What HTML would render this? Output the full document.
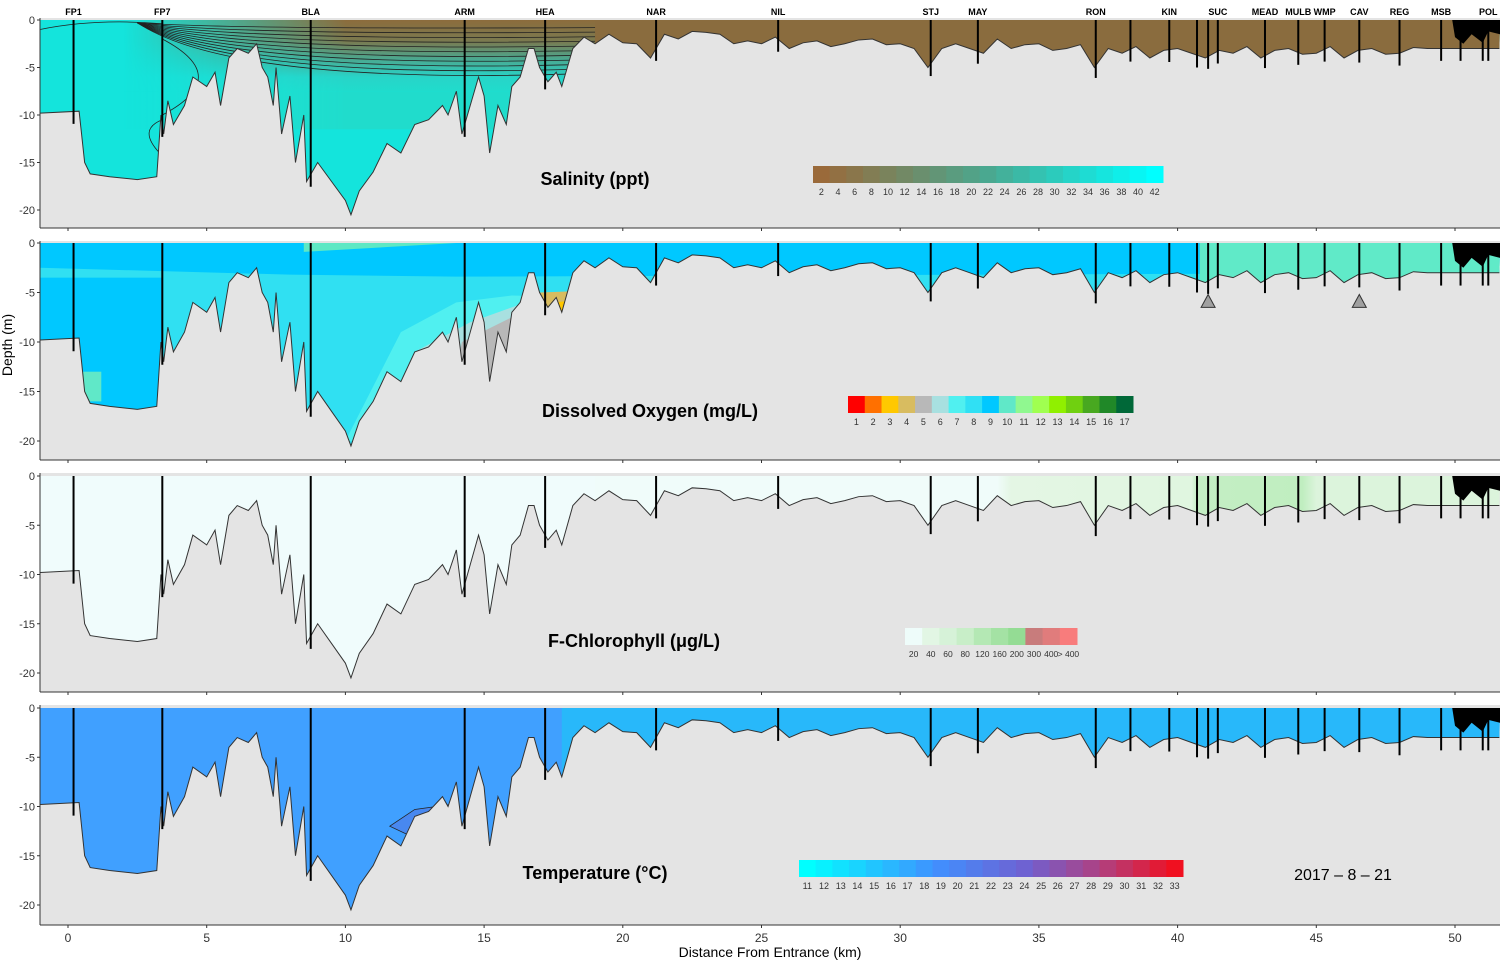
<!DOCTYPE html>
<html><head><meta charset="utf-8">
<style>
html,body{margin:0;padding:0;background:#fff;}
svg{display:block;font-family:"Liberation Sans",sans-serif;}
</style></head>
<body>
<svg id="c" width="1500" height="960" xmlns="http://www.w3.org/2000/svg"></svg>
<script>
// ---- data ----
const bathyKm = [-1,0.4,0.6,0.8,1.5,2.5,3.2,3.35,3.45,3.6,
 3.8,4.2,4.5,5.0,5.3,5.5,5.8,6.1,6.5,6.8,
 7.0,7.2,7.4,7.5,7.7,8.0,8.2,8.5,8.6,9.0,
 9.5,10.0,10.2,10.5,11,11.5,12,12.5,13,13.5,
 13.7,14,14.2,14.5,14.8,15,15.2,15.5,15.8,16,
 16.3,16.6,16.8,17,17.3,17.6,17.8,18,
 18.2,18.6,
 19,19.5,20,20.5,21,21.5,22,22.5,23,23.5,
 24,24.5,25,25.5,26,26.5,27,27.5,28,28.5,
 29,29.5,30,30.5,31,31.5,32,32.5,33,33.5,
 34,34.5,35,35.5,36,36.5,37,37.5,38,38.5,
 39,39.5,40,40.5,41,41.5,42,42.5,43,43.5,
 44,44.5,45,45.5,46,46.5,47,47.5,48,48.5,
 49,49.5,50,
 50.5,51.6];
const bathyDepth = [-9.8,-9.6,-15,-16.2,-16.5,-16.8,-16.5,-10,-12,-8.5,
 -11,-9,-6,-7,-5.5,-9,-4,-3,-3.5,-2.5,
 -5,-6,-9,-5,-12,-8,-15,-10,-17,-15,
 -17,-19,-20.5,-18,-16,-13,-14,-11,-10.5,-9,
 -10,-7.5,-12,-9,-6,-8,-14,-9,-11,-7,
 -6,-3,-3,-5,-6.5,-5.5,-7,-5,
 -3,-1.8,
 -2.5,-1.5,-2.4,-2.5,-4,-1.5,-2,-1.2,-1.3,-1.5,
 -2.5,-2.2,-2.5,-1.8,-3,-2.4,-2.2,-2.8,-2.5,-2.1,
 -2.0,-2.6,-2.5,-3,-5,-3,-2.5,-3,-3.5,-2,
 -3,-2.6,-2.5,-3.2,-3,-2.6,-5,-3,-3.5,-2.8,
 -4,-3.2,-3,-3.5,-4,-3.2,-3.5,-2.8,-4,-3.2,
 -3,-3.6,-3.5,-2.8,-4,-3.2,-3,-3.6,-3.5,-2.9,
 -3,-3,-3,
 -3,-3];
const stationNames = ["FP1","FP7","BLA","ARM","HEA","NAR","NIL","STJ","MAY","RON","KIN","SUC","MEAD","MULB","WMP","CAV","REG","MSB","POL"];
const stationKm = [0.2,3.4,8.75,14.3,17.2,21.2,25.6,31.1,32.8,37.05,39.7,41.45,43.15,44.35,45.3,46.55,48.0,49.5,51.2];
const extraKm = [38.3,40.7,41.1,50.2,51.0];
const xTicks = [0,5,10,15,20,25,30,35,40,45,50];
const yTicks = [0,-5,-10,-15,-20];
const salLabels = [2,4,6,8,10,12,14,16,18,20,22,24,26,28,30,32,34,36,38,40,42];
const doLabels = [1,2,3,4,5,6,7,8,9,10,11,12,13,14,15,16,17];
const doColors = ["#ff0000","#ff7000","#ffc800","#d8bc60","#b8b8b8","#a8e0e0","#50f0f0","#30e0f4","#00c8ff","#60e8c8","#90f890","#a0ff50","#90f000","#70d010","#48a820","#208828","#006838"];
const chlLabels = ["20","40","60","80","120","160","200","300","400","> 400"];
const chlColors = ["#eefcfa","#e2f6e4","#d6f2d8","#c8eec8","#b4e8b4","#a4e2a4","#94dc94","#c87c7c","#e07c7c","#f87c7c"];
const tempLabels = [11,12,13,14,15,16,17,18,19,20,21,22,23,24,25,26,27,28,29,30,31,32,33];

// ---- geometry ----
const NS="http://www.w3.org/2000/svg";
const svg=document.getElementById('c');
const X0=40,X1=1500;
const xs=km=>68+km*27.74;
const panels=[
 {top:18,bottom:228,y0:20,ppm:9.5,name:'salinity'},
 {top:241,bottom:460,y0:243,ppm:9.9,name:'oxygen'},
 {top:473,bottom:692,y0:476,ppm:9.85,name:'chlorophyll'},
 {top:705,bottom:925,y0:708,ppm:9.85,name:'temperature'}];
function el(tag,attrs,parent){const e=document.createElementNS(NS,tag);for(const k in attrs)e.setAttribute(k,attrs[k]);(parent||svg).appendChild(e);return e;}
function depthAt(km){for(let i=0;i<bathyKm.length-1;i++){if(km>=bathyKm[i]&&km<=bathyKm[i+1]){const t=(km-bathyKm[i])/(bathyKm[i+1]-bathyKm[i]);return bathyDepth[i]+t*(bathyDepth[i+1]-bathyDepth[i]);}}return -3;}
function lerpC(a,b,t){const pa=[1,3,5].map(i=>parseInt(a.substr(i,2),16)),pb=[1,3,5].map(i=>parseInt(b.substr(i,2),16));return '#'+pa.map((v,i)=>Math.round(v+(pb[i]-v)*t).toString(16).padStart(2,'0')).join('');}
function ramp(stops,t){for(let i=0;i<stops.length-1;i++){if(t<=stops[i+1][0]){return lerpC(stops[i][1],stops[i+1][1],(t-stops[i][0])/(stops[i+1][0]-stops[i][0]));}}return stops[stops.length-1][1];}

const defs=el('defs',{});
panels.forEach((p,pi)=>{
  const ys=d=>p.y0-d*p.ppm;
  const g=el('g',{});
  
  
  el('rect',{x:X0,y:p.top,width:X1-X0,height:p.bottom-p.top,fill:'#e4e4e4'},g);
  let pts=`${X0},${ys(0)} `;
  bathyKm.forEach((k,i)=>{pts+=`${Math.max(X0,xs(k))},${ys(bathyDepth[i])} `;});
  pts+=`${X1},${ys(0)}`;
  const cp=el('clipPath',{id:'w'+pi},defs);
  el('polygon',{points:pts},cp);
  const wg=el('g',{'clip-path':`url(#w${pi})`},g);
  
  
  const W=X1-X0, H=p.bottom-p.y0;
  if(pi===0){
    el('rect',{x:X0,y:p.y0,width:W,height:H,fill:'#14e4dc'},wg);
    const lg=el('linearGradient',{id:'salv',x1:0,y1:0,x2:0,y2:1},defs);
    [[0,'#8c6c3c'],[0.3,'#7a7a50'],[0.55,'#4aa890'],[0.8,'#28d4c8'],[1,'#20dccc']].forEach(s=>el('stop',{offset:s[0],'stop-color':s[1]},lg));
    const mk=el('linearGradient',{id:'salm',gradientUnits:'userSpaceOnUse',x1:xs(2),x2:xs(10),y1:0,y2:0},defs);
    el('stop',{offset:0,'stop-color':'#fff','stop-opacity':0},mk);el('stop',{offset:1,'stop-color':'#fff','stop-opacity':1},mk);
    const mask=el('mask',{id:'salmask'},defs);el('rect',{x:X0,y:p.top,width:W,height:H,fill:'url(#salm)'},mask);
    el('rect',{x:X0,y:p.y0,width:W,height:7.5*p.ppm,fill:'url(#salv)',mask:'url(#salmask)'},wg);
    el('rect',{x:X0,y:p.y0+7.5*p.ppm,width:W,height:4*p.ppm,fill:'#20dccc',mask:'url(#salmask)'},wg);
    el('rect',{x:xs(19),y:p.y0,width:X1-xs(19),height:H,fill:'#8a6c3e'},wg);
    for(let d=1;d<=7;d+=0.6){el('path',{d:`M${xs(2.5)},${ys(-0.3)} Q${xs(6)},${ys(-d)} ${xs(19)},${ys(-d*0.8)}`,fill:'none',stroke:'#222','stroke-width':0.8},wg);}
    el('path',{d:`M${X0},${ys(-1)} Q${xs(1)},${ys(0.2)} ${xs(3.4)},${ys(-0.4)}`,fill:'none',stroke:'#222','stroke-width':0.8},wg);
    el('path',{d:`M${xs(3.4)},${ys(-2)} Q${xs(6)},${ys(-6)} ${xs(3.4)},${ys(-10)} M${xs(3.4)},${ys(-10.5)} Q${xs(2.5)},${ys(-11.5)} ${xs(3.3)},${ys(-14)}`,fill:'none',stroke:'#222','stroke-width':0.8},wg);
  } else if(pi===1){
    el('rect',{x:X0,y:p.y0,width:W,height:H,fill:'#30e0f2'},wg);
    el('rect',{x:X0,y:p.y0+3.5*p.ppm,width:xs(3.4)-X0,height:H,fill:'#00c8ff'},wg);
    el('polygon',{points:`${X0},${ys(0)} ${X1},${ys(0)} ${X1},${ys(-3)} ${xs(14)},${ys(-3.4)} ${xs(8)},${ys(-3.2)} ${X0},${ys(-2.5)}`,fill:'#00c8ff'},wg);
    el('polygon',{points:`${xs(8.5)},${ys(0)} ${xs(14)},${ys(0)} ${xs(8.5)},${ys(-0.9)}`,fill:'#5ee8c4'},wg);
    el('polygon',{points:`${xs(10)},${ys(-20)} ${xs(12)},${ys(-9)} ${xs(14)},${ys(-6)} ${xs(16)},${ys(-5.3)} ${xs(19)},${ys(-5.5)} ${xs(19)},${ys(-20)}`,fill:'#50f0f0'},wg);
    el('polygon',{points:`${xs(11.8)},${ys(-20)} ${xs(12.5)},${ys(-11)} ${xs(14.5)},${ys(-8)} ${xs(16.5)},${ys(-6)} ${xs(19)},${ys(-6)} ${xs(19)},${ys(-20)}`,fill:'#a8e0e0'},wg);
    el('polygon',{points:`${xs(13.5)},${ys(-20)} ${xs(14.2)},${ys(-10)} ${xs(16)},${ys(-7.5)} ${xs(17.5)},${ys(-5.5)} ${xs(19)},${ys(-6)} ${xs(19)},${ys(-20)}`,fill:'#b8b8b8'},wg);
    el('polygon',{points:`${xs(16.3)},${ys(-20)} ${xs(17)},${ys(-5)} ${xs(19)},${ys(-4.8)} ${xs(19)},${ys(-20)}`,fill:'#d8bc60'},wg);
    el('polygon',{points:`${xs(17.6)},${ys(-6)} ${xs(19)},${ys(-5.5)} ${xs(19)},${ys(-20)}`,fill:'#ffc800'},wg);
    el('rect',{x:xs(0.5),y:ys(-13),width:xs(1.2)-xs(0.5),height:3*p.ppm,fill:'#60e8c8'},wg);
    el('rect',{x:xs(40.8),y:p.y0,width:X1-xs(40.8),height:H,fill:'#60eac8'},wg);
    [41.1,46.55].forEach(k=>{const tr=el('polygon',{points:`${xs(k)-7},${ys(-6.5)} ${xs(k)+7},${ys(-6.5)} ${xs(k)},${ys(-5.2)}`,fill:'#a0a0a0',stroke:'#333'},g);
      });
  } else if(pi===2){
    const lg=el('linearGradient',{id:'chl',gradientUnits:'userSpaceOnUse',x1:X0,x2:X1,y1:0,y2:0},defs);
    [[xs(33.5),'#f0fcfa'],[xs(34),'#e4f6e4'],[xs(40.5),'#e0f6e0'],[xs(40.7),'#c4eec4'],[xs(44.5),'#c0eec0'],[xs(45),'#dcf4dc'],[X1,'#dcf4dc']].forEach(s=>el('stop',{offset:(s[0]-X0)/W,'stop-color':s[1]},lg));
    el('rect',{x:X0,y:p.y0,width:W,height:H,fill:'url(#chl)'},wg);
    el('rect',{x:X0,y:p.y0,width:xs(19)-X0,height:H,fill:'#f0fcfc'},wg);
  } else {
    el('rect',{x:X0,y:p.y0,width:W,height:H,fill:'#40a0ff'},wg);
    el('rect',{x:xs(17.8),y:p.y0,width:X1-xs(17.8),height:H,fill:'#28b8fa'},wg);
    el('polygon',{points:`${xs(13.8)},${ys(-9.8)} ${xs(12.5)},${ys(-10.3)} ${xs(11.6)},${ys(-12)} ${xs(12.5)},${ys(-13.2)} ${xs(13.8)},${ys(-13)}`,fill:'#4888f0',stroke:'#222','stroke-width':0.8},wg);
  }
  let line='';bathyKm.forEach((k,i)=>{line+=(i?'L':'M')+Math.max(X0,xs(k))+','+ys(bathyDepth[i]);});
  const bl=el('path',{d:line,fill:'none',stroke:'#333','stroke-width':1},g);
  
  
  const bk=el('polygon',{points:`${xs(49.9)},${ys(0)} ${X1},${ys(0)} ${X1},${ys(-1.5)} ${xs(51.2)},${ys(-1.2)} ${xs(51)},${ys(-2.4)} ${xs(50.6)},${ys(-1.5)} ${xs(50.3)},${ys(-2.5)} ${xs(50)},${ys(-1.8)}`,fill:'#000'},g);
  
  
  stationKm.concat(extraKm).forEach(k=>{const d=depthAt(k);
    const s=el('line',{x1:xs(k),x2:xs(k),y1:ys(0),y2:ys(d-1.3),stroke:'#000','stroke-width':2},g);
    
    });
  yTicks.forEach(t=>{const tx=el('text',{x:35,y:ys(t)+4,'font-size':11,'text-anchor':'end',fill:'#333'},g);tx.textContent=t;
    
    
    el('line',{x1:37,x2:40,y1:ys(t),y2:ys(t),stroke:'#333'},g);});
  el('line',{x1:X0,x2:X0,y1:p.top,y2:p.bottom,stroke:'#333'},g);
  el('line',{x1:X0,x2:X1,y1:p.bottom,y2:p.bottom,stroke:'#333'},g);
  xTicks.forEach(t=>el('line',{x1:xs(t),x2:xs(t),y1:p.bottom,y2:p.bottom+3,stroke:'#333'},g));
});
stationNames.forEach((n,i)=>{const t=el('text',{x:xs(stationKm[i]),y:15,'font-size':9,'font-weight':'bold','text-anchor':'middle'});t.textContent=n;
  
  });
xTicks.forEach(v=>{const t=el('text',{x:xs(v),y:942,'font-size':12,'text-anchor':'middle',fill:'#333'});t.textContent=v;
  
  });
let t=el('text',{x:770,y:957,'font-size':14,'text-anchor':'middle'});t.textContent='Distance From Entrance (km)';

t=el('text',{x:12,y:345,'font-size':14,'text-anchor':'middle',transform:'rotate(-90 12 345)'});t.textContent='Depth (m)';

[['Salinity (ppt)',595,185],['Dissolved Oxygen (mg/L)',650,417],['F-Chlorophyll (\u03bcg/L)',634,647],['Temperature (\u00b0C)',595,879]].forEach((a,i)=>{
  const tt=el('text',{x:a[1],y:a[2],'font-size':18,'font-weight':'bold','text-anchor':'middle'});tt.textContent=a[0];
  });
t=el('text',{x:1343,y:880,'font-size':16,'text-anchor':'middle'});t.textContent='2017 \u2013 8 \u2013 21';

function legend(x,y,w,colors,labels,name,labelFs){
  const g=el('g',{});
  const cw=w/colors.length;
  colors.forEach((c,i)=>el('rect',{x:x+i*cw,y:y,width:cw+0.5,height:17,fill:c},g));
  labels.forEach((l,i)=>{const lx=labels.length===colors.length?x+(i+0.5)*cw:x+(i+0.5)*w/labels.length;
    const tx=el('text',{x:lx,y:y+29,'font-size':labelFs||9,'text-anchor':'middle',fill:'#333'},g);tx.textContent=l;});
}
const salColors=salLabels.map((v,i)=>ramp([[0,'#9a6a3a'],[0.5,'#4aa890'],[1,'#00ffff']],i/(salLabels.length-1)));
legend(813,166,350,salColors,salLabels,'salinity-legend');
legend(848,396,285,doColors,doLabels,'oxygen-legend');
legend(905,628,172,chlColors,chlLabels,'chlorophyll-legend',8.5);
const tempColors=tempLabels.map((v,i)=>ramp([[0,'#00ffff'],[0.35,'#4090ff'],[0.6,'#7060d0'],[0.8,'#b04080'],[1,'#f01020']],i/(tempLabels.length-1)));
legend(799,860,384,tempColors,tempLabels,'temperature-legend');
</script>
</body></html>
